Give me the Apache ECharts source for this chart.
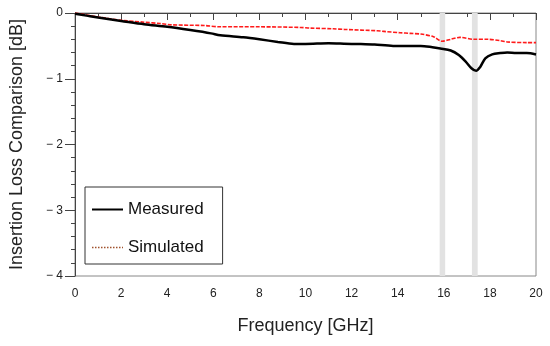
<!DOCTYPE html>
<html>
<head>
<meta charset="utf-8">
<script src="https://cdn.jsdelivr.net/npm/echarts@6/dist/echarts.min.js"></script>
<style>html,body{margin:0;padding:0;background:#fff}#c{width:550px;height:346px}</style>
</head>
<body>
<div id="c"></div>
<script>
var measuredFreq = [0,0.5,1,2,3,4,5,5.9,6.3,7.3,8,8.8,9.5,10,11,12,12.4,13,13.8,14.5,15,15.5,15.85,16.3,16.65,16.95,17.2,17.4,17.58,17.8,18.1,18.45,18.75,19.15,19.6,20];
var measuredDb   = [-0.01,-0.04,-0.07,-0.12,-0.17,-0.21,-0.26,-0.31,-0.34,-0.37,-0.40,-0.44,-0.47,-0.47,-0.46,-0.47,-0.47,-0.48,-0.50,-0.50,-0.50,-0.52,-0.54,-0.57,-0.64,-0.74,-0.84,-0.88,-0.82,-0.69,-0.63,-0.61,-0.60,-0.61,-0.61,-0.63];
var simulatedFreq = [0,0.5,1,2,3,3.7,4.2,5.6,6.3,8,9.8,10.2,11.2,11.7,13.1,13.4,14.1,14.55,15,15.55,15.92,16.3,16.7,17.3,17.9,18.45,18.75,19.6,20];
var simulatedDb   = [0,-0.03,-0.06,-0.11,-0.14,-0.16,-0.18,-0.19,-0.21,-0.21,-0.22,-0.23,-0.24,-0.25,-0.27,-0.28,-0.30,-0.31,-0.32,-0.36,-0.43,-0.40,-0.37,-0.40,-0.40,-0.42,-0.44,-0.45,-0.45];
var bandStarts = [15.82, 17.22];
var bandEnds   = [16.06, 17.47];
var seriesNames = ['Measured', 'Simulated'];
var xAxisName = 'Frequency [GHz]';
var yAxisName = 'Insertion Loss Comparison [dB]';

function zip(a, b) { return a.map(function (v, i) { return [v, b[i]]; }); }
var bands = bandStarts.map(function (s, i) { return [{ xAxis: s }, { xAxis: bandEnds[i] }]; });

var font = 'Liberation Sans, Arial, sans-serif';
var chart = echarts.init(document.getElementById('c'), null, { renderer: 'canvas' });
chart.setOption({
  animation: false,
  backgroundColor: '#fff',
  grid: { left: 74, right: 14, top: 13, bottom: 70, show: true, borderColor: '#888', borderWidth: 1, backgroundColor: 'transparent' },
  legend: {
    orient: 'vertical', left: 85, top: 187,
    padding: [14, 19, 8, 6], itemGap: 21, itemWidth: 31, itemHeight: 14,
    backgroundColor: '#fff', borderColor: '#333', borderWidth: 1,
    textStyle: { fontFamily: font, fontSize: 17, color: '#111' },
    data: [
      { name: seriesNames[0], itemStyle: { opacity: 0 }, lineStyle: { color: '#000', width: 2 } },
      { name: seriesNames[1], itemStyle: { opacity: 0 }, lineStyle: { color: '#a0522d', width: 1.5, type: 'dotted' } }
    ]
  },
  xAxis: {
    type: 'value', min: 0, max: 20, interval: 2,
    name: xAxisName, nameLocation: 'middle', nameGap: 41,
    nameTextStyle: { fontFamily: font, fontSize: 18, color: '#222' },
    axisLine: { lineStyle: { color: '#444', width: 1 } },
    axisTick: { show: true, inside: false, length: 7, lineStyle: { color: '#444' } },
    minorTick: { show: true, splitNumber: 2, length: 4, lineStyle: { color: '#444' } },
    axisLabel: { fontFamily: font, fontSize: 12, color: '#222', margin: 12 },
    splitLine: { show: false }
  },
  yAxis: {
    type: 'value', min: -4, max: 0, interval: 1,
    name: yAxisName, nameLocation: 'middle', nameGap: 49,
    nameTextStyle: { fontFamily: font, fontSize: 18, color: '#222' },
    axisLine: { show: true, lineStyle: { color: '#444', width: 1 } },
    axisTick: { show: true, inside: false, length: 10, lineStyle: { color: '#444' } },
    minorTick: { show: true, splitNumber: 5, length: 4, lineStyle: { color: '#444' } },
    axisLabel: { fontFamily: font, fontSize: 12, color: '#222', margin: 12,
      formatter: function (v) { return v === 0 ? '0' : '\u2212 ' + Math.abs(v); } },
    splitLine: { show: false }
  },
  series: [
    {
      name: 'bands', type: 'line', data: [], z: 0, silent: true,
      markArea: { silent: true, itemStyle: { color: '#e2e2e2' }, data: bands }
    },
    {
      name: seriesNames[1], type: 'line', data: zip(simulatedFreq, simulatedDb), z: 3,
      symbol: 'none', smooth: 0.3, itemStyle: { color: '#a0522d' },
      lineStyle: { color: '#ff1a1a', width: 1.6, type: [4, 1.5] }
    },
    {
      name: seriesNames[0], type: 'line', data: zip(measuredFreq, measuredDb), z: 4,
      symbol: 'none', smooth: 0.3, itemStyle: { color: '#000' },
      lineStyle: { color: '#000', width: 2.5 }
    }
  ]
});
</script>
</body>
</html>
